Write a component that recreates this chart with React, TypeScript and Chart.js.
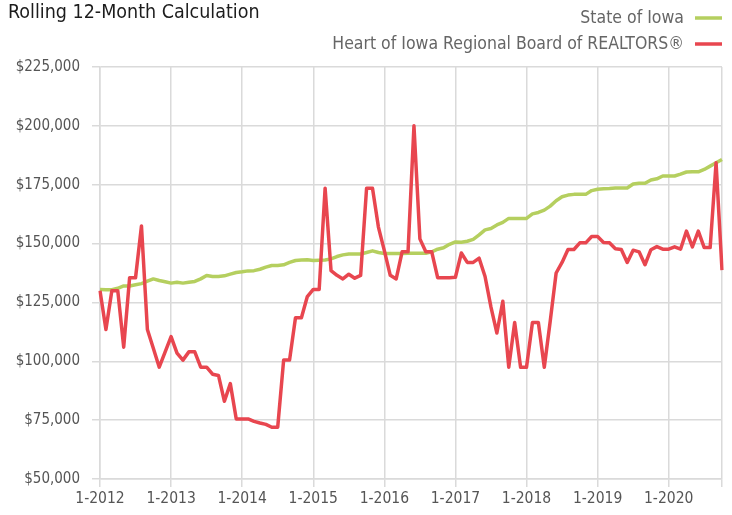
import React, { useEffect, useRef } from "react";
import { Chart, registerables } from "chart.js";

Chart.register(...registerables);

const FONT = "'Liberation Sans Narrow', 'Arial Narrow', 'DejaVu Sans Condensed', sans-serif";

const TITLE = "Rolling 12-Month Calculation";
const SERIES_NAMES = ["State of Iowa", "Heart of Iowa Regional Board of REALTORS®"];
const START_YEAR = 2012;

// values in thousands of dollars, monthly from 1-2012 to 10-2020
const iowaValues = [
  130.5, 130.4, 130.4, 131, 132, 132, 132.5, 133, 134, 135, 134.3, 133.8,
  133.2, 133.6, 133.2, 133.6, 133.9, 135, 136.4, 136, 136, 136.3, 137, 137.7,
  138, 138.4, 138.5, 139.1, 140, 140.7, 140.7, 141, 142, 142.8, 143, 143.1,
  142.8, 142.9, 143, 143.5, 144.5, 145.2, 145.6, 145.6, 145.6, 146.2, 146.9, 146.2,
  145.8, 145.8, 145.8, 145.8, 145.9, 145.9, 145.9, 145.9, 146.5, 147.6, 148.2, 149.7,
  150.7, 150.6, 151, 151.8, 153.7, 155.8, 156.4, 157.9, 159, 160.7, 160.7, 160.7,
  160.7, 162.6, 163.2, 164.2, 165.9, 168.2, 169.9, 170.6, 170.9, 170.9, 170.9, 172.5,
  173.1, 173.3, 173.4, 173.6, 173.6, 173.6, 175.3, 175.6, 175.6, 177, 177.5, 178.7,
  178.7, 178.7, 179.5, 180.4, 180.5, 180.5, 181.5, 182.9, 184.3, 185.7,
];

const heartValues = [
  130, 113.5, 130, 130, 106, 135.5, 135.5, 157.5, 113.5, 105.5, 97.5, 104,
  110.5, 103.5, 100.5, 104, 104, 97.5, 97.5, 94.5, 94, 83, 90.5, 75.5,
  75.5, 75.5, 74.5, 73.8, 73.2, 72, 72, 100.5, 100.5, 118.5, 118.5, 127.5,
  130.5, 130.5, 173.5, 138.5, 136.5, 135, 137, 135.3, 136.5, 173.5, 173.5, 157,
  147, 136.5, 135, 146.5, 146.5, 200, 152, 146.5, 146.5, 135.5, 135.5, 135.5,
  135.7, 146, 142, 142, 143.8, 136, 123, 112, 125.5, 97.5, 116.5, 97.5,
  97.5, 116.5, 116.5, 97.5, 117, 137.5, 142, 147.5, 147.5, 150.3, 150.3, 153,
  153, 150.5, 150.3, 147.8, 147.5, 142, 147.2, 146.5, 141, 147.4, 148.7, 147.6,
  147.6, 148.6, 147.6, 155.3, 148.6, 155.3, 148.3, 148.3, 184.3, 138.7,
];

const monthLabels = heartValues.map(
  (_, i) => `${(i % 12) + 1}-${START_YEAR + Math.floor(i / 12)}`
);

const Y_MIN = 50000;
const Y_MAX = 225000;
const Y_STEP = 25000;

const IOWA_COLOR = "#b5cf5f";
const HEART_COLOR = "#e8464f";
const GRID_COLOR = "#dadada";

const headerPlugin = {
  id: "header",
  afterDraw(chart: any) {
    const ctx = chart.ctx;
    ctx.save();
    ctx.textBaseline = "middle";
    ctx.textAlign = "left";
    ctx.font = `19.5px ${FONT}`;
    ctx.fillStyle = "#1c1c1c";
    ctx.fillText(TITLE, 8, 13);

    const colors = [IOWA_COLOR, HEART_COLOR];
    const rows = [18, 44];
    ctx.font = `17.5px ${FONT}`;
    ctx.textAlign = "right";
    SERIES_NAMES.forEach((name, i) => {
      ctx.fillStyle = "#666666";
      ctx.fillText(name, 684, rows[i]);
      ctx.strokeStyle = colors[i];
      ctx.lineWidth = 3.5;
      ctx.beginPath();
      ctx.moveTo(695, rows[i]);
      ctx.lineTo(722, rows[i]);
      ctx.stroke();
    });
    ctx.restore();
  },
};

export default function App() {
  const canvasRef = useRef<HTMLCanvasElement | null>(null);

  useEffect(() => {
    const canvas = canvasRef.current;
    if (!canvas) return;
    const lastIndex = monthLabels.length - 1;
    const chart = new Chart(canvas, {
      type: "line",
      data: {
        labels: monthLabels,
        datasets: [
          {
            label: SERIES_NAMES[0],
            data: iowaValues.map((v) => v * 1000),
            borderColor: IOWA_COLOR,
            backgroundColor: IOWA_COLOR,
            borderWidth: 3.5,
            pointRadius: 0,
            tension: 0,
            borderJoinStyle: "round",
            order: 2,
          },
          {
            label: SERIES_NAMES[1],
            data: heartValues.map((v) => v * 1000),
            borderColor: HEART_COLOR,
            backgroundColor: HEART_COLOR,
            borderWidth: 3.5,
            pointRadius: 0,
            tension: 0,
            borderJoinStyle: "round",
            order: 1,
          },
        ],
      },
      options: {
        responsive: false,
        animation: false,
        devicePixelRatio: 1,
        layout: { padding: { top: 67, right: 10, left: 0, bottom: 0 } },
        plugins: {
          legend: { display: false },
          title: { display: false },
          tooltip: { enabled: false },
        },
        scales: {
          x: {
            type: "category",
            offset: false,
            grid: { color: GRID_COLOR, lineWidth: 1.5, tickLength: 8, drawTicks: true },
            border: { color: GRID_COLOR, width: 1.5 },
            ticks: {
              autoSkip: false,
              maxRotation: 0,
              minRotation: 0,
              padding: 3,
              color: "#555555",
              font: { family: FONT, size: 15.5 },
              callback: function (this: any, value: any, index: number) {
                const label = this.getLabelForValue(value) as string;
                if (label.startsWith("1-")) return label;
                if (index === lastIndex) return "";
                return null;
              },
            },
            afterFit(scale: any) {
              scale.height = 36;
            },
          },
          y: {
            min: Y_MIN,
            max: Y_MAX,
            grid: { color: GRID_COLOR, lineWidth: 1.5, tickLength: 8, drawTicks: true },
            border: { color: GRID_COLOR, width: 1.5 },
            ticks: {
              stepSize: Y_STEP,
              padding: 12,
              color: "#555555",
              font: { family: FONT, size: 15 },
              callback: (value: any) => "$" + Number(value).toLocaleString("en-US"),
            },
            afterFit(scale: any) {
              scale.width = 100;
            },
          },
        },
      },
      plugins: [headerPlugin],
    });
    return () => chart.destroy();
  }, []);

  return (
    <div style={{ position: "absolute", left: 0, top: 0, width: 732, height: 515, background: "#fff" }}>
      <canvas ref={canvasRef} width={732} height={515} style={{ width: 732, height: 515, display: "block" }} />
    </div>
  );
}
